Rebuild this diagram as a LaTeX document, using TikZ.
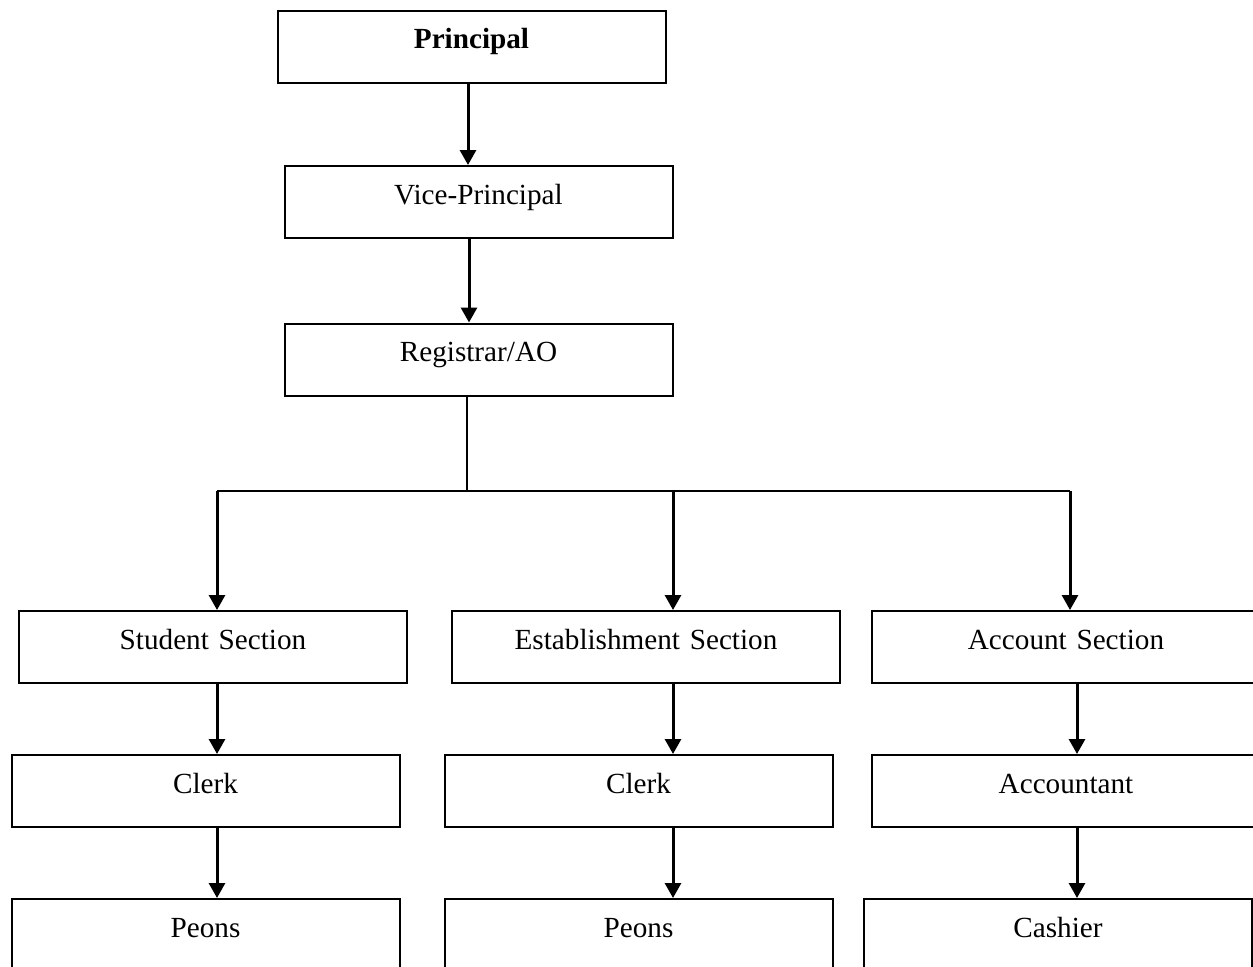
\documentclass[tikz,border=0pt]{standalone}
\usepackage{fontspec}
\setmainfont{Liberation Serif}
\usetikzlibrary{arrows.meta}

\tikzset{
	office/.style={draw, line width=1pt, inner sep=0pt, text width=194pt, align=center,
		text height=19pt, text depth=17pt, font=\fontsize{14.6}{17}\selectfont},
	down/.style={-{Triangle[width=8pt, length=7.5pt]}, line width=1.5pt},
	bus/.style={line width=0.9pt},
}

\begin{document}
\begin{tikzpicture}[x=0.5pt, y=-0.5pt]
	\useasboundingbox (0,0) rectangle (1253,966);
	\clip (0,0) rectangle (1253,966);
	% top of the chart
	\node[office] (princ) at (471.5, 46.5) {\textbf{Principal}};
	\node[office] (vice) at (478.5, 202) {Vice-Principal};
	\node[office] (reg) at (478.5, 359.5) {Registrar/AO};
	% sections
	\node[office] (stud) at (213, 647) {Student Section};
	\node[office] (estab) at (646, 647) {Establishment Section};
	\node[office] (acct) at (1066, 647) {Account Section};
	% staff
	\node[office] (clerkA) at (205.5, 791) {Clerk};
	\node[office] (clerkB) at (638.5, 791) {Clerk};
	\node[office] (accnt) at (1066, 791) {Accountant};
	\node[office] (peonA) at (205.5, 935) {Peons};
	\node[office] (peonB) at (638.5, 935) {Peons};
	\node[office] (cash) at (1058, 935) {Cashier};

	\coordinate (bus) at (0, 491);
	\coordinate (colA) at (217, 0);
	\coordinate (colB) at (673, 0);
	\coordinate (colC) at (1070, 0);
	\coordinate (colD) at (1077, 0);

	\draw[down] (princ.south -| 468,0) -- (vice.north -| 468,0);
	\draw[down] (vice.south -| 469,0) -- (reg.north -| 469,0);
	\draw[bus] (reg.south -| 467,0) -- (bus -| 467,0);
	\draw[bus] (bus -| colA) -- (bus -| colC);
	\draw[down] (bus -| colA) -- (stud.north -| colA);
	\draw[down] (bus -| colB) -- (estab.north -| colB);
	\draw[down] (bus -| colC) -- (acct.north -| colC);

	\draw[down] (stud.south -| colA) -- (clerkA.north -| colA);
	\draw[down] (estab.south -| colB) -- (clerkB.north -| colB);
	\draw[down] (acct.south -| colD) -- (accnt.north -| colD);
	\draw[down] (clerkA.south -| colA) -- (peonA.north -| colA);
	\draw[down] (clerkB.south -| colB) -- (peonB.north -| colB);
	\draw[down] (accnt.south -| colD) -- (cash.north -| colD);
\end{tikzpicture}
\end{document}
